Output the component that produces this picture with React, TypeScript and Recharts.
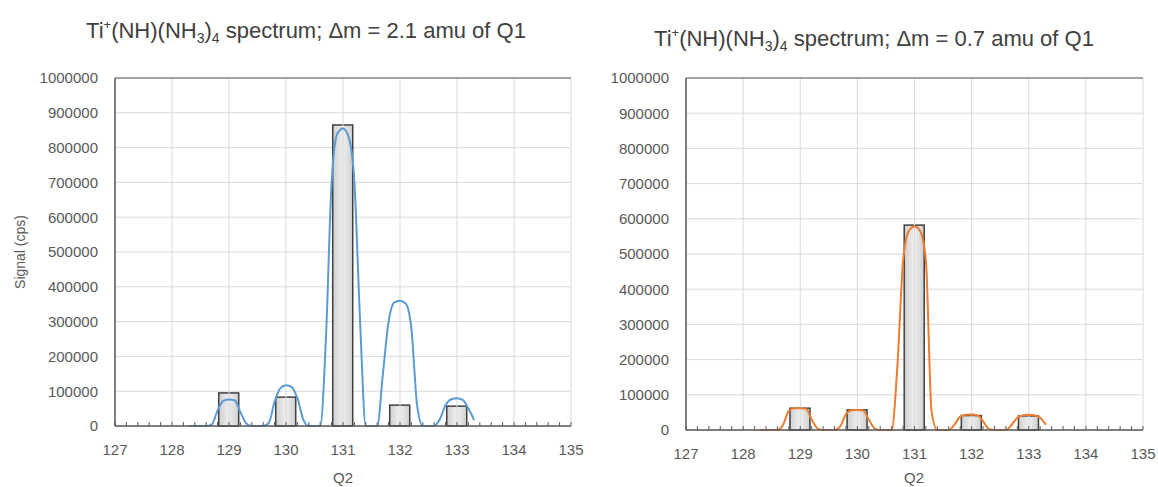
import React from 'react';
import { ComposedChart, Bar, Line, XAxis, YAxis, CartesianGrid, ReferenceLine } from 'recharts';

// ---- data ----
const xMajor = [127, 128, 129, 130, 131, 132, 133, 134, 135];
const yTicks = [0, 100000, 200000, 300000, 400000, 500000, 600000, 700000, 800000, 900000, 1000000];

const barMass = [129, 130, 131, 132, 133];
const leftBars = [95000, 83000, 865000, 60000, 57000];
const rightBars = [62000, 57000, 582000, 41000, 40000];

const lineMass = [
  128.3, 128.4, 128.5, 128.6, 128.7, 128.8, 128.9, 129.0, 129.1, 129.2, 129.3, 129.4, 129.5,
  129.6, 129.7, 129.8, 129.9, 130.0, 130.1, 130.2, 130.3, 130.4, 130.5, 130.6, 130.7, 130.8,
  130.9, 131.0, 131.1, 131.2, 131.3, 131.4, 131.5, 131.6, 131.7, 131.8, 131.9, 132.0, 132.1,
  132.2, 132.3, 132.4, 132.5, 132.6, 132.7, 132.8, 132.9, 133.0, 133.1, 133.2, 133.3,
];
const leftLine = [
  0, 0, 0, 0, 5000, 45000, 72000, 76000, 74000, 40000, 8000, 0, 0,
  0, 10000, 70000, 108000, 117000, 112000, 80000, 20000, 0, 0, 0, 250000, 700000,
  840000, 855000, 830000, 700000, 300000, 0, 0, 0, 150000, 300000, 355000, 360000, 352000,
  280000, 60000, 0, 0, 0, 20000, 60000, 77000, 80000, 75000, 50000, 17000,
];
const rightLine = [
  0, 0, 0, 0, 15000, 55000, 62000, 62000, 60000, 30000, 5000, 0, 0,
  0, 10000, 45000, 56000, 57000, 55000, 30000, 5000, 0, 0, 0, 180000, 480000,
  565000, 578000, 565000, 480000, 50000, 0, 0, 0, 15000, 38000, 43000, 44000, 42000,
  25000, 3000, 0, 0, 0, 15000, 35000, 42000, 43000, 42000, 35000, 15000,
];

const minorTicks: number[] = [];
for (let i = 0; i <= 40; i++) minorTicks.push(Math.round((127 + i * 0.2) * 10) / 10);

const GRID = '#d9d9d9';
const AXIS = '#595959';
const TXT = '#595959';

const XTick = (props: any) => {
  const { x, y, payload } = props;
  const v = payload.value;
  const isInt = Math.abs(v - Math.round(v)) < 1e-6;
  return (
    <g>
      <line x1={x} x2={x} y1={y} y2={y - 4} stroke={AXIS} strokeWidth={1} />
      {isInt && (
        <text x={x} y={y + 29} textAnchor="middle" fontSize={15} fill={TXT}>
          {Math.round(v)}
        </text>
      )}
    </g>
  );
};

const makeShape = (gid: string) => (props: any) => {
  const { x, y, width, height } = props;
  if (x == null || y == null) return <g />;
  const cx = x + width / 2;
  return (
    <g>
      <defs>
        <linearGradient id={gid} x1="0" y1="0" x2="1" y2="0">
          <stop offset="0%" stopColor="#cfcfcf" />
          <stop offset="50%" stopColor="#efefef" />
          <stop offset="100%" stopColor="#cfcfcf" />
        </linearGradient>
      </defs>
      <rect x={cx - 10} y={y} width={20} height={height} fill={`url(#${gid})`} stroke="#3f3f3f" strokeWidth={1.5} />
    </g>
  );
};

type PanelProps = {
  bars: number[];
  line: number[];
  color: string;
  width: number;
  yAxisWidth: number;
  right: number;
  xAxisHeight: number;
  gid: string;
};

const Panel = ({ bars, line, color, width, yAxisWidth, right, xAxisHeight, gid }: PanelProps) => {
  const barData = barMass.map((m, i) => ({ x: m, v: bars[i] }));
  const lineData = lineMass.map((m, i) => ({ x: m, y: line[i] }));
  return (
    <ComposedChart width={width} height={487} data={barData} margin={{ top: 78, right, bottom: 0, left: 0 }}>
      <CartesianGrid vertical={false} stroke={GRID} />
      {xMajor.map((m) => (
        <ReferenceLine key={m} x={m} stroke={GRID} ifOverflow="extendDomain" />
      ))}
      <ReferenceLine y={1000000} stroke={AXIS} />
      <XAxis
        dataKey="x"
        type="number"
        domain={[127, 135]}
        ticks={minorTicks}
        interval={0}
        allowDataOverflow
        height={xAxisHeight}
        tickSize={0}
        tickMargin={0}
        tickLine={false}
        axisLine={{ stroke: AXIS, strokeWidth: 1.5 }}
        tick={<XTick />}
      />
      <YAxis
        type="number"
        domain={[0, 1000000]}
        ticks={yTicks}
        interval={0}
        width={yAxisWidth}
        tickSize={0}
        tickMargin={17}
        tickLine={false}
        axisLine={{ stroke: AXIS, strokeWidth: 1.5 }}
        tick={{ fill: TXT, fontSize: 15 }}
      />
      <Bar dataKey="v" isAnimationActive={false} shape={makeShape(gid)} barSize={20} />
      <Line
        data={lineData}
        dataKey="y"
        type="monotone"
        stroke={color}
        strokeWidth={2}
        dot={false}
        activeDot={false}
        isAnimationActive={false}
      />
    </ComposedChart>
  );
};

const Title = ({ x, y, dm }: { x: number; y: number; dm: string }) => (
  <text x={x} y={y} textAnchor="middle" fontSize={22} fill="#404040">
    <tspan>Ti</tspan>
    <tspan fontSize={13} dy={-9}>+</tspan>
    <tspan dy={9}>(NH)(NH</tspan>
    <tspan fontSize={14} dy={5}>3</tspan>
    <tspan dy={-5}>)</tspan>
    <tspan fontSize={14} dy={5}>4</tspan>
    <tspan dy={-5}>{` spectrum; \u0394m = ${dm} amu of Q1`}</tspan>
  </text>
);

export default function App() {
  return (
    <div
      style={{
        position: 'absolute',
        left: 0,
        top: 0,
        width: 1158,
        height: 487,
        background: '#ffffff',
        fontFamily: '"Liberation Sans", Arial, sans-serif',
      }}
    >
      <div style={{ position: 'absolute', left: 0, top: 0 }}>
        <Panel bars={leftBars} line={leftLine} color="#5b9bd5" width={595} yAxisWidth={115} right={24} xAxisHeight={61} gid="gL" />
      </div>
      <div style={{ position: 'absolute', left: 580, top: 0 }}>
        <Panel bars={rightBars} line={rightLine} color="#ed7d31" width={578} yAxisWidth={106} right={15} xAxisHeight={57} gid="gR" />
      </div>
      <svg width={1158} height={487} style={{ position: 'absolute', left: 0, top: 0, pointerEvents: 'none' }}>
        <Title x={306} y={38} dm="2.1" />
        <Title x={874} y={46} dm="0.7" />
        <text x={25} y={252} transform="rotate(-90 25 252)" textAnchor="middle" fontSize={14} fill={TXT}>
          Signal (cps)
        </text>
        <text x={343} y={483} textAnchor="middle" fontSize={15} fill={TXT}>Q2</text>
        <text x={914} y={483} textAnchor="middle" fontSize={15} fill={TXT}>Q2</text>
      </svg>
    </div>
  );
}
